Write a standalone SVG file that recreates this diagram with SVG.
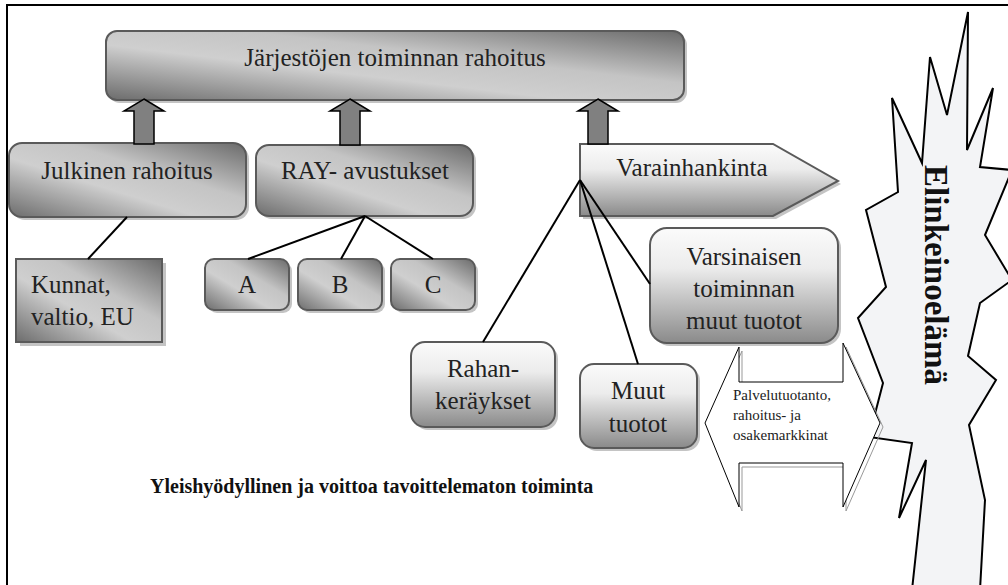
<svg xmlns="http://www.w3.org/2000/svg" width="1008" height="585" viewBox="0 0 1008 585">
<defs>
<linearGradient id="metal" x1="0" y1="1" x2="1" y2="0">
<stop offset="0" stop-color="#6c6c6c"/>
<stop offset="0.4" stop-color="#cfcfcf"/>
<stop offset="0.62" stop-color="#c4c4c4"/>
<stop offset="1" stop-color="#6a6a6a"/>
</linearGradient>
<linearGradient id="vert" x1="0" y1="0" x2="0" y2="1">
<stop offset="0" stop-color="#fbfbfb"/>
<stop offset="0.35" stop-color="#ececec"/>
<stop offset="1" stop-color="#8a8a8a"/>
</linearGradient>
<style>
.box{stroke:#5a5a5a;stroke-width:2}
.m{fill:url(#metal)}
.v{fill:url(#vert)}
.sh{fill:#c4c4c4}
.t{font-family:"Liberation Serif","Times New Roman",serif;font-size:25px;fill:#222;text-anchor:middle}
.tl{text-anchor:start}
.arr{fill:#808080;stroke:#000;stroke-width:1.5}
.ln{stroke:#000;stroke-width:2;fill:none}
</style>
</defs>
<rect x="0" y="0" width="1008" height="585" fill="#fff"/>
<path d="M7,585 V5 H1008" fill="none" stroke="#000" stroke-width="2"/>

<g id="n-top">
<rect class="sh" x="109" y="34" width="578" height="69" rx="11"/>
<rect class="box m" x="106" y="31" width="578" height="69" rx="11"/>
<text class="t" x="395" y="66">Järjestöjen toiminnan rahoitus</text>
</g>

<g id="n-julkinen">
<rect class="sh" x="12" y="146" width="237" height="74" rx="13"/>
<rect class="box m" x="9" y="143" width="237" height="74" rx="13"/>
<text class="t" x="127" y="179">Julkinen rahoitus</text>
</g>

<g id="n-ray">
<rect class="sh" x="259" y="148" width="217" height="71" rx="13"/>
<rect class="box m" x="256" y="145" width="217" height="71" rx="13"/>
<text class="t" x="365" y="179">RAY- avustukset</text>
</g>

<g id="n-varainhankinta">
<path class="sh" d="M583,147 H776 L841,184 L776,219 H583 Z"/>
<path class="box v" d="M580,144 H773 L838,181 L773,216 H580 Z"/>
<text class="t" x="692" y="176">Varainhankinta</text>
</g>

<g id="n-kunnat">
<rect class="sh" x="20" y="263" width="146" height="83"/>
<rect class="box m" x="16" y="259" width="146" height="83"/>
<text class="t tl" x="31" y="293">Kunnat,</text>
<text class="t tl" x="31" y="325">valtio, EU</text>
</g>

<g id="n-a">
<rect class="sh" x="208" y="262" width="84" height="51" rx="9"/>
<rect class="box m" x="205" y="259" width="84" height="51" rx="9"/>
<text class="t" x="247" y="293">A</text>
</g>
<g id="n-b">
<rect class="sh" x="301" y="262" width="84" height="51" rx="9"/>
<rect class="box m" x="298" y="259" width="84" height="51" rx="9"/>
<text class="t" x="340" y="293">B</text>
</g>
<g id="n-c">
<rect class="sh" x="394" y="262" width="84" height="51" rx="9"/>
<rect class="box m" x="391" y="259" width="84" height="51" rx="9"/>
<text class="t" x="433" y="293">C</text>
</g>

<g id="n-varsinaisen">
<rect class="sh" x="653" y="231" width="188" height="115" rx="17"/>
<rect class="box v" x="650" y="228" width="188" height="115" rx="17"/>
<text class="t" x="744" y="265">Varsinaisen</text>
<text class="t" x="744" y="297">toiminnan</text>
<text class="t" x="744" y="329">muut tuotot</text>
</g>

<g id="n-rahan">
<rect class="sh" x="414" y="345" width="144" height="85" rx="14"/>
<rect class="box v" x="411" y="342" width="144" height="85" rx="14"/>
<text class="t" x="483" y="377">Rahan-</text>
<text class="t" x="483" y="409">keräykset</text>
</g>

<g id="n-muut">
<rect class="sh" x="583" y="367" width="117" height="84" rx="14"/>
<rect class="box v" x="580" y="364" width="117" height="84" rx="14"/>
<text class="t" x="638" y="399">Muut</text>
<text class="t" x="638" y="432">tuotot</text>
</g>

<g id="n-elinkeino">
<path d="M968,12 L967,150 L993,88 L980,167 L1012,170 L985,235 L1012,280 L980,303 L968,356 L996,380 L969,425 L985,500 L980,590 L912,590 L926,460 L899,518 L912,443 L869,437 L883,383 L858,318 L886,287 L866,210 L898,192 L892,98 L922,163 L930,57 L947,115 Z" fill="#f3f4f6" stroke="#000" stroke-width="2" stroke-linejoin="miter"/>
<text class="t" transform="translate(925,275) rotate(90)" style="font-size:33px;font-weight:bold;fill:#111">Elinkeinoelämä</text>
</g>

<g id="n-palvelu">
<path d="M742,351 L742,386 L846,386 L846,347 L883,427 L846,511 L846,467 L742,467 L742,511 L708,427 Z" fill="none" stroke="#999" stroke-width="1"/>
<path d="M739,347 L739,382 L843,382 L843,343 L880,423 L843,507 L843,463 L739,463 L739,507 L705,423 Z" fill="#fff" stroke="#000" stroke-width="1"/>
<text class="t tl" x="733" y="400" style="font-size:15px">Palvelutuotanto,</text>
<text class="t tl" x="733" y="420" style="font-size:15px">rahoitus- ja</text>
<text class="t tl" x="733" y="440" style="font-size:15px">osakemarkkinat</text>
</g>

<g id="n-label">
<text class="t tl" x="150" y="493" style="font-size:20px;font-weight:bold;fill:#111">Yleishyödyllinen ja voittoa tavoittelematon toiminta</text>
</g>

<g id="connectors">
<line class="ln" x1="127" y1="217" x2="88" y2="259"/>
<line class="ln" x1="365" y1="216" x2="248" y2="259"/>
<line class="ln" x1="365" y1="216" x2="341" y2="259"/>
<line class="ln" x1="365" y1="216" x2="433" y2="259"/>
<line class="ln" x1="580" y1="180" x2="483" y2="342"/>
<line class="ln" x1="580" y1="180" x2="638" y2="364"/>
<line class="ln" x1="580" y1="180" x2="650" y2="284"/>
<path class="arr" d="M144,99 L164,111 L154,111 L154,144 L134,144 L134,111 L124,111 Z"/>
<path class="arr" d="M350,99 L370,111 L360,111 L360,145 L340,145 L340,111 L330,111 Z"/>
<path class="arr" d="M598,99 L618,111 L608,111 L608,144 L588,144 L588,111 L578,111 Z"/>
</g>
</svg>
